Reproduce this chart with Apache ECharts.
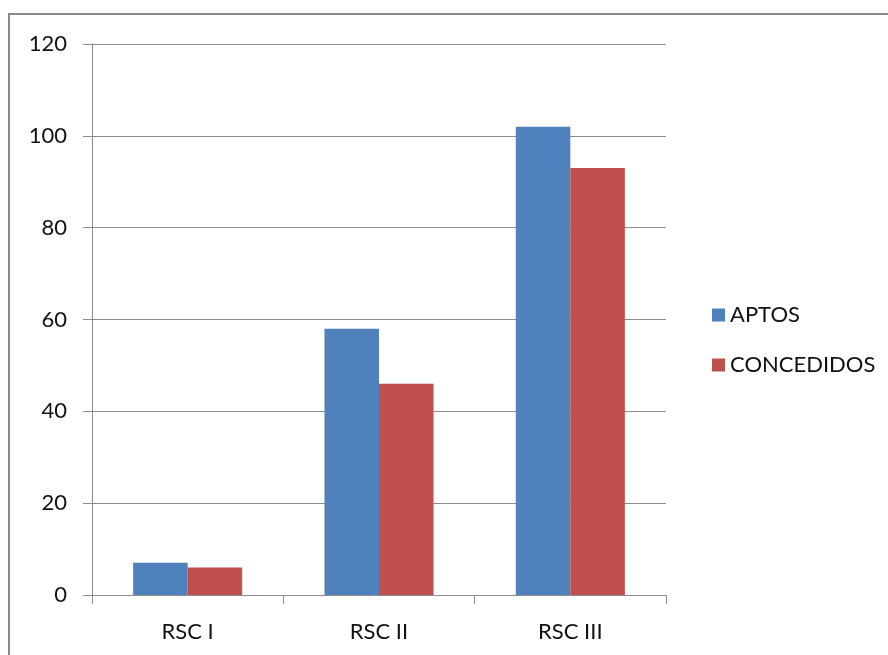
<!DOCTYPE html>
<html>
<head>
<meta charset="utf-8">
<script src="https://cdn.jsdelivr.net/npm/echarts@6/dist/echarts.min.js"></script>
<style>
  html, body { margin: 0; padding: 0; background: #fff; }
  #chart { width: 888px; height: 655px; }
</style>
</head>
<body>
<div id="chart"></div>
<script>
// Categories and series values
const categories = ['RSC I', 'RSC II', 'RSC III'];
const aptos = [7, 58, 102];
const concedidos = [6, 46, 93];
const seriesNames = ['APTOS', 'CONCEDIDOS'];

const chart = echarts.init(document.getElementById('chart'), null, { renderer: 'canvas' });
const font = 'Lato, "Open Sans", "Noto Sans", sans-serif';

chart.setOption({
  animation: false,
  backgroundColor: '#fff',
  graphic: [{
    type: 'rect',
    shape: { x: 9, y: 14, width: 900, height: 700 },
    style: { fill: 'none', stroke: '#8a8a8a', lineWidth: 2 },
    silent: true
  }],
  grid: { left: 92, right: 222, top: 44, bottom: 60 },
  legend: {
    orient: 'vertical',
    left: 707,
    top: 299,
    icon: 'rect',
    itemWidth: 13,
    itemHeight: 13,
    itemGap: 28,
    textStyle: { fontFamily: font, fontSize: 22, lineHeight: 20, color: '#111' },
    data: seriesNames
  },
  xAxis: {
    type: 'category',
    data: categories,
    axisLine: { lineStyle: { color: '#8c8c8c', width: 1 } },
    axisTick: { show: true, length: 9, lineStyle: { color: '#8c8c8c' } },
    axisLabel: { fontFamily: font, fontSize: 22, color: '#111', margin: 26 }
  },
  yAxis: {
    type: 'value',
    min: 0,
    max: 120,
    interval: 20,
    axisLine: { show: true, lineStyle: { color: '#8c8c8c', width: 1 } },
    axisTick: { show: true, length: 9, lineStyle: { color: '#8c8c8c' } },
    axisLabel: { fontFamily: font, fontSize: 22, color: '#111', margin: 25 },
    splitLine: { lineStyle: { color: '#8c8c8c', width: 1 } }
  },
  series: [
    {
      name: seriesNames[0],
      type: 'bar',
      data: aptos,
      barGap: '0%',
      barCategoryGap: '43%',
      itemStyle: { color: '#4f81bd' }
    },
    {
      name: seriesNames[1],
      type: 'bar',
      data: concedidos,
      barGap: '0%',
      barCategoryGap: '43%',
      itemStyle: { color: '#c0504d' }
    }
  ]
});
</script>
</body>
</html>
